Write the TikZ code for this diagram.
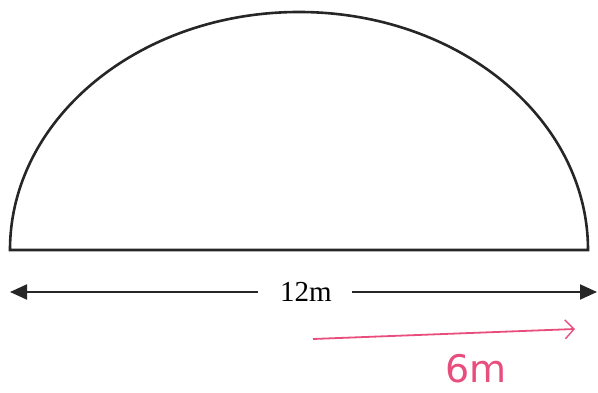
\documentclass[tikz,border=0pt]{standalone}
\usepackage{fontspec}
\setmainfont{Liberation Serif}
\newfontfamily\handfont{DejaVu Sans}
\usepackage{tikz}
\usetikzlibrary{arrows.meta,positioning}
\definecolor{handpink}{RGB}{232,78,125}

\begin{document}
\begin{tikzpicture}[x=1pt,y=1pt,
    outline/.style={line width=2.6pt, black!85},
    dimline/.style={line width=2pt, black!85, -{Triangle[length=17pt,width=15pt]}},
    handline/.style={line width=1.8pt, handpink, -{Straight Barb[length=9pt,width=19pt,line width=1.4pt]}}]
    \useasboundingbox (0,0) rectangle (598,393);

    % Half ellipse
    \coordinate (baseL) at (10,143);
    \coordinate (baseR) at (588,143);
    \draw[outline] (baseL) arc[start angle=180, end angle=0, x radius=289, y radius=238] -- cycle;

    % Dimension line
    \node[font=\fontsize{29}{33}\selectfont, inner sep=0pt] (len) at (306,101) {12m};
    \coordinate (dimL) at (10,101);
    \coordinate (dimR) at (597,101);
    \draw[dimline] ([xshift=-22pt]len.west) -- (dimL);
    \draw[dimline] ([xshift=20pt]len.east) -- (dimR);

    % Hand-written radius
    \coordinate (radA) at (313,54);
    \coordinate (radB) at (575,64);
    \draw[handline] (radA) -- (radB);
    \node[handpink, font=\handfont\fontsize{38}{42}\selectfont] (rad) at (476,24) {6m};
\end{tikzpicture}
\end{document}
